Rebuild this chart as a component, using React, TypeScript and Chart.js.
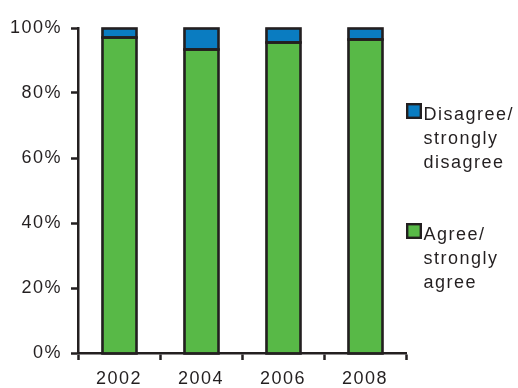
import React, { useEffect, useRef } from "react";
import { Chart, registerables } from "chart.js";

Chart.register(...registerables);

const categories = ["2002", "2004", "2006", "2008"];
const agreeValues = [97.3, 93.5, 95.7, 96.5];
const disagreeValues = [2.7, 6.5, 4.3, 3.5];
const yTickValues = [0, 20, 40, 60, 80, 100];
const agreeLegend = ["Agree/", "strongly", "agree"];
const disagreeLegend = ["Disagree/", "strongly", "disagree"];

const GREEN = "#58b947";
const BLUE = "#0a7cc1";
const INK = "#231f20";
const FONT = "'Liberation Sans', Arial, Helvetica, sans-serif";

export default function App() {
  const ref = useRef<HTMLCanvasElement | null>(null);

  useEffect(() => {
    if (!ref.current) return;

    const spacingPlugin = {
      id: "spacing",
      beforeDraw(chart: any) {
        chart.ctx.letterSpacing = "1.5px";
      },
    };

    const outlinePlugin = {
      id: "barOutline",
      afterDatasetsDraw(chart: any) {
        const ctx = chart.ctx as CanvasRenderingContext2D;
        ctx.save();
        ctx.strokeStyle = INK;
        ctx.lineWidth = 2.6;
        chart.data.datasets.forEach((_: any, di: number) => {
          const meta = chart.getDatasetMeta(di);
          meta.data.forEach((el: any) => {
            const left = Math.round(el.x - el.width / 2) + 0.5;
            const right = Math.round(el.x + el.width / 2) + 0.5;
            const top = Math.round(Math.min(el.y, el.base)) + 0.5;
            const bottom = Math.round(Math.max(el.y, el.base)) + 0.5;
            ctx.strokeRect(left, top, right - left, bottom - top);
          });
        });
        ctx.restore();
      },
    };

    const legendPlugin = {
      id: "sideLegend",
      afterDraw(chart: any) {
        const ctx = chart.ctx as CanvasRenderingContext2D;
        const items = [
          { ds: chart.data.datasets[1], lines: disagreeLegend, top: 103 },
          { ds: chart.data.datasets[0], lines: agreeLegend, top: 223 },
        ];
        const boxX = chart.chartArea.right;
        ctx.save();
        (ctx as any).letterSpacing = "1.5px";
        ctx.font = `18px ${FONT}`;
        ctx.textBaseline = "alphabetic";
        ctx.textAlign = "left";
        items.forEach((it) => {
          ctx.fillStyle = it.ds.backgroundColor;
          ctx.fillRect(boxX, it.top, 16, 16);
          ctx.lineWidth = 2.4;
          ctx.strokeStyle = INK;
          ctx.strokeRect(boxX + 1.2, it.top + 1.2, 13.6, 13.6);
          ctx.fillStyle = INK;
          it.lines.forEach((ln: string, i: number) => {
            ctx.fillText(ln, boxX + 17.5, it.top + 17 + i * 24);
          });
        });
        ctx.restore();
      },
    };

    const chart = new Chart(ref.current, {
      type: "bar",
      data: {
        labels: categories,
        datasets: [
          {
            label: agreeLegend.join(" "),
            data: agreeValues,
            backgroundColor: GREEN,
            borderWidth: 0,
            categoryPercentage: 1,
            barPercentage: 0.42,
          },
          {
            label: disagreeLegend.join(" "),
            data: disagreeValues,
            backgroundColor: BLUE,
            borderWidth: 0,
            categoryPercentage: 1,
            barPercentage: 0.42,
          },
        ],
      },
      options: {
        responsive: false,
        animation: false,
        devicePixelRatio: 1,
        layout: { padding: { left: 0, top: 28, right: 112, bottom: 0 } },
        plugins: {
          legend: { display: false },
          tooltip: { enabled: false },
        },
        scales: {
          x: {
            stacked: true,
            grid: {
              display: true,
              offset: true,
              drawOnChartArea: false,
              drawTicks: true,
              tickLength: 7,
              tickWidth: 2.5,
              tickColor: INK,
            },
            border: { display: true, color: INK, width: 2.5 },
            ticks: {
              color: INK,
              font: { family: FONT, size: 18 },
              padding: 8,
              maxRotation: 0,
            },
            afterFit(scale: any) {
              scale.height = 35;
            },
          },
          y: {
            stacked: true,
            min: 0,
            max: 100,
            afterBuildTicks(scale: any) {
              scale.ticks = yTickValues.map((v) => ({ value: v }));
            },
            grid: {
              display: true,
              drawOnChartArea: false,
              drawTicks: true,
              tickLength: 7,
              tickWidth: 2.5,
              tickColor: INK,
            },
            border: { display: true, color: INK, width: 2.5 },
            ticks: {
              color: INK,
              font: { family: FONT, size: 18 },
              padding: 9,
              callback: (v: any) => `${v}%`,
            },
            afterFit(scale: any) {
              scale.width = 78;
            },
          },
        },
      },
      plugins: [spacingPlugin, outlinePlugin, legendPlugin],
    });

    return () => chart.destroy();
  }, []);

  return (
    <div style={{ position: "absolute", left: 0, top: 0, width: 518, height: 388, background: "#fff" }}>
      <canvas ref={ref} width={518} height={388} style={{ display: "block" }} />
    </div>
  );
}
